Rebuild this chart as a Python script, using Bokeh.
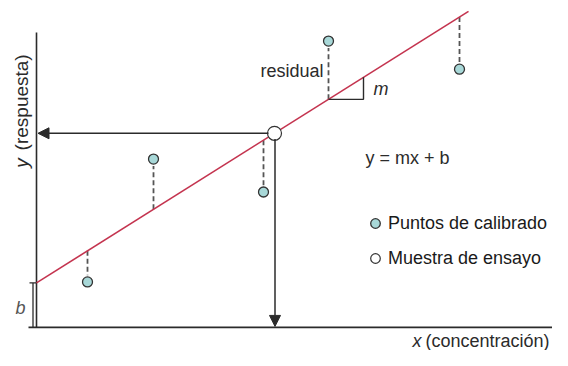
import numpy as np
from bokeh.plotting import figure
from bokeh.models import Range1d, Label, Arrow, NormalHead, Legend, LegendItem
from bokeh.embed import file_html
from bokeh.resources import INLINE

# ---- data (concept units) ----
calib_x = [5.1, 11.7, 22.7, 29.2, 42.3]
calib_y = [4.7, 17.4, 14.0, 29.6, 26.7]
slope_m = 0.65
intercept_b = 4.6
line_x = [0.0, 43.2]
sample_x = [23.8]
slope_run = 3.5          # horizontal leg of the slope triangle
x_axis_end = 51.6
y_axis_end = 30.5

FONT = "Liberation Sans"
DARK = "#2b2b2b"

line_y = [slope_m * x + intercept_b for x in line_x]
sample_y = [slope_m * x + intercept_b for x in sample_x]

p = figure(width=552, height=350, x_range=Range1d(-3.6, 51.6), y_range=Range1d(-2.39, 33.8),
           x_axis_type=None, y_axis_type=None, min_border=0,
           output_backend="svg", toolbar_location=None)
p.grid.visible = False
p.outline_line_color = None

# axes
p.segment(x0=[0, -0.8], y0=[0, 0], x1=[0, x_axis_end], y1=[y_axis_end, 0],
          line_color=DARK, line_width=1.6)

# b bracket
p.segment(x0=[-0.7, -0.35], y0=[intercept_b, 0], x1=[0, -0.35], y1=[intercept_b, intercept_b],
          line_color=DARK, line_width=1.3)

# residuals (dashed)
r0, r1, rx = [], [], []
for x, y in zip(calib_x, calib_y):
    ly = slope_m * x + intercept_b
    rx.append(x)
    r0.append(ly)
    r1.append(y + 0.7 if y < ly else y - 0.7)
p.segment(x0=rx, y0=r0, x1=rx, y1=r1, line_color="#555555", line_width=1.8, line_dash="5 3")

# fitted line
p.line(line_x, line_y, line_color="#c4344f", line_width=1.6)

# slope triangle
tx0 = calib_x[3]
tri_x = [tx0, tx0 + slope_run, tx0 + slope_run]
tri_y = [slope_m * tx0 + intercept_b, slope_m * tx0 + intercept_b,
         slope_m * (tx0 + slope_run) + intercept_b]
p.line(tri_x, tri_y, line_color=DARK, line_width=1.4)

# arrows from test sample
p.add_layout(Arrow(end=NormalHead(size=11, fill_color=DARK, line_color=DARK),
                   x_start=sample_x[0] - 0.6, y_start=sample_y[0], x_end=0.15, y_end=sample_y[0],
                   line_color=DARK, line_width=1.5))
p.add_layout(Arrow(end=NormalHead(size=11, fill_color=DARK, line_color=DARK),
                   x_start=sample_x[0] + 0.05, y_start=sample_y[0] - 0.6, x_end=sample_x[0] + 0.05, y_end=0.1,
                   line_color=DARK, line_width=1.5))

calib = p.scatter(calib_x, calib_y, size=10, fill_color="#a8d8d8", line_color="#333333", line_width=1.3)
samp = p.scatter(sample_x, sample_y, size=14, fill_color="white", line_color="#333333", line_width=1.2)

legend = Legend(items=[LegendItem(label="Puntos de calibrado", renderers=[calib]),
                       LegendItem(label="Muestra de ensayo", renderers=[samp])],
                location=(363, 80), orientation="vertical",
                border_line_color=None, background_fill_alpha=0,
                padding=0, margin=0, spacing=11,
                glyph_width=24, glyph_height=24, label_standoff=1,
                label_text_font=FONT, label_text_font_size="18px", label_text_color="#1a1a1a")
p.add_layout(legend, "center")

def lab(x, y, t, size="18px", style="normal", align="left", angle=0, color=DARK):
    p.add_layout(Label(x=x, y=y, text=t, text_font=FONT, text_font_size=size, text_font_style=style,
                       text_align=align, text_baseline="middle", angle=angle, text_color=color))

lab(32.9, 17.5, "y = mx + b")
lab(28.7, 26.5, "residual", align="right")
lab(33.7, 24.6, "m", style="italic")
lab(-2.1, 2.0, "b", style="italic", color="#555555")
lab(37.6, -1.36, "x", style="italic")
lab(38.9, -1.36, "(concentración)")
lab(-1.5, 16.5, "y", size="19px", style="italic", angle=np.pi / 2)
lab(-1.5, 18.3, "(respuesta)", size="19px", angle=np.pi / 2)

open("out.html", "w").write(file_html(p, INLINE))
